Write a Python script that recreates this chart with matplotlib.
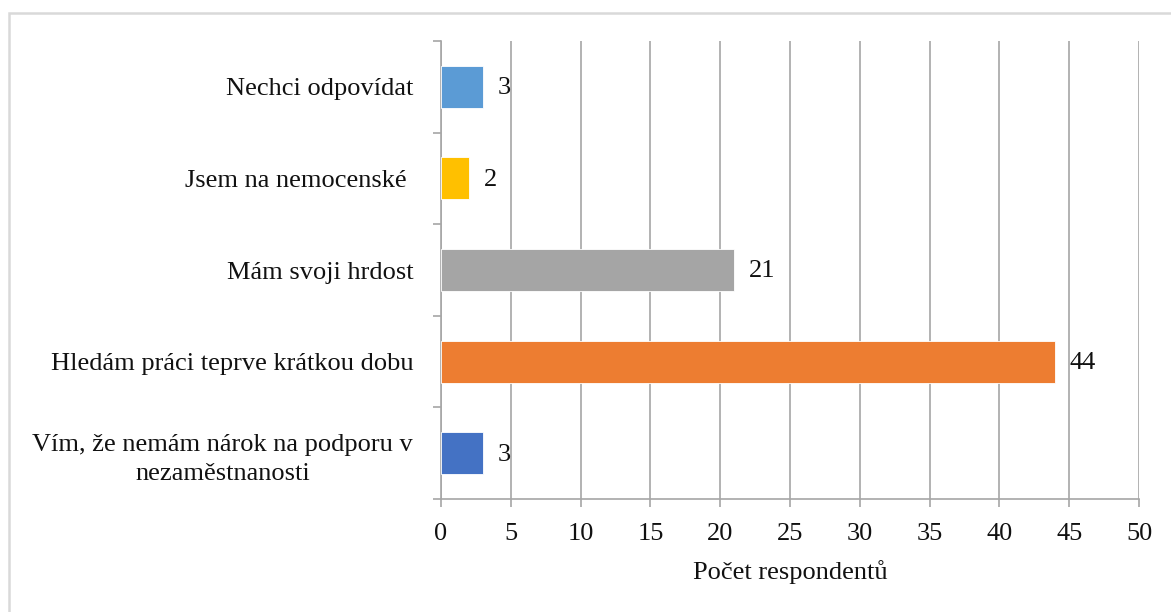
import matplotlib
matplotlib.use("Agg")
import matplotlib.pyplot as plt
from matplotlib.patches import Rectangle

categories = [
    "Vím, že nemám nárok na podporu v\nnezaměstnanosti",
    "Hledám práci teprve krátkou dobu",
    "Mám svoji hrdost",
    "Jsem na nemocenské ",
    "Nechci odpovídat",
]
values = [3, 44, 21, 2, 3]
colors = ["#4472C4", "#ED7D31", "#A5A5A5", "#FFC000", "#5B9BD5"]
x_ticks = [0, 5, 10, 15, 20, 25, 30, 35, 40, 45, 50]
x_label = "Počet respondentů"

plt.rcParams['font.family'] = ['Liberation Serif', 'DejaVu Serif']
FS = 19
TC = "#111111"

fig = plt.figure(figsize=(11.71, 6.12), dpi=100)
ax = fig.add_axes([441/1171, 1-499/612, (1139-441)/1171, (499-41)/612])

ypos = list(range(len(categories)))
ax.barh(ypos, values, height=0.46, color=colors, edgecolor="white", linewidth=0.6, zorder=3)
for y, v in zip(ypos, values):
    ax.annotate(str(v), xy=(v, y), xytext=(10.5, -1), textcoords="offset points",
                ha="left", va="center", fontsize=FS, color=TC, zorder=4)

ax.set_xlim(0, 50)
ax.set_ylim(-0.5, len(categories) - 0.5)
ax.set_xticks(x_ticks)
ax.set_xticklabels([str(t) for t in x_ticks], fontsize=FS)
ax.set_yticks(ypos)
ax.set_yticklabels(categories, fontsize=FS, multialignment="center", linespacing=1.45)
ax.set_yticks([i - 0.5 for i in range(len(categories) + 1)], minor=True)

gc = "#A6A6A6"
ax.xaxis.grid(True, color=gc, linewidth=1.2, zorder=0)
ax.set_axisbelow(True)
for s in ["top", "right"]:
    ax.spines[s].set_visible(False)
for s in ["left", "bottom"]:
    ax.spines[s].set_color(gc)
    ax.spines[s].set_linewidth(1.2)

ax.tick_params(axis="x", which="major", length=6, color=gc, width=1.2, pad=11, labelcolor=TC)
ax.tick_params(axis="y", which="major", length=0, pad=20, labelcolor=TC)
ax.tick_params(axis="y", which="minor", length=5.5, color=gc, width=1.2)

ax.set_xlabel(x_label, fontsize=FS, color=TC, labelpad=11)

fig.patches.append(Rectangle((9/1171, -0.1), 1.2, 1 + 0.1 - 12.5/612,
                             transform=fig.transFigure, fill=False,
                             edgecolor="#D9D9D9", linewidth=1.8, zorder=0))

fig.savefig("out.png", dpi=100)
